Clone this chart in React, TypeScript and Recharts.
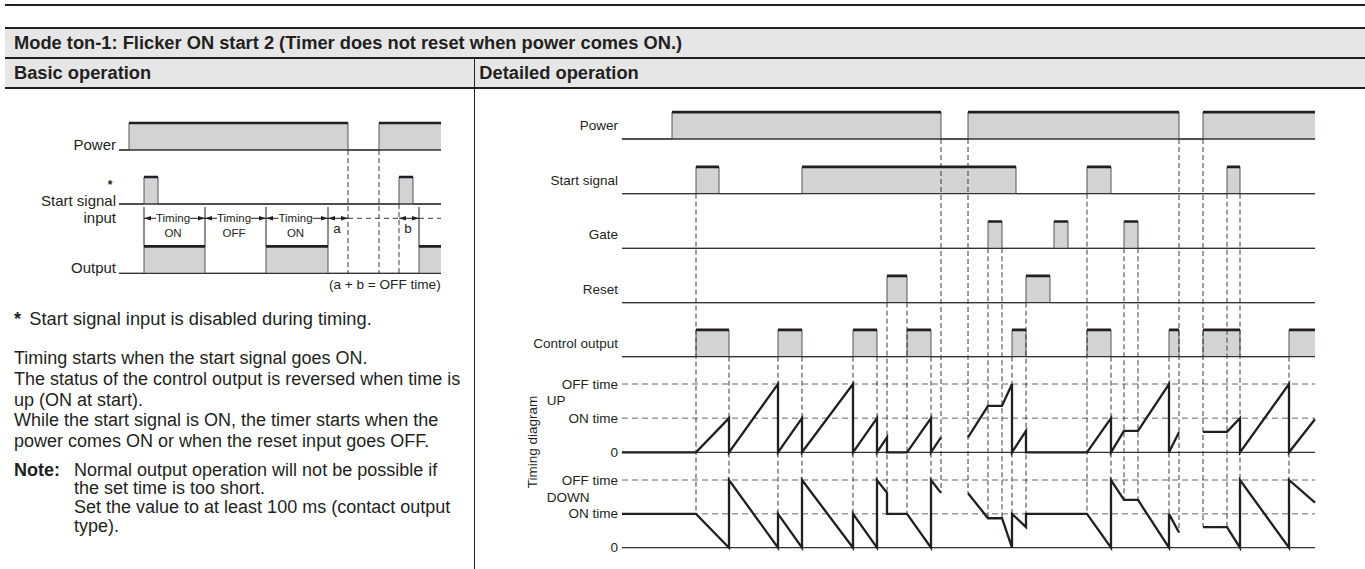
import React from 'react';
import { ComposedChart, Area, Line, Scatter, XAxis, YAxis } from 'recharts';

type Span = [number, number];
type Pt = [number, number | null];

// ---------- Detailed operation (time axis 0..693) ----------
const DETAIL_END = 693;
const POWER_ON: Span[] = [[50, 319], [346, 557], [581, 693]];
const START_ON: Span[] = [[74, 97], [180, 394], [465, 489], [605, 618]];
const GATE_ON: Span[] = [[366, 380], [432, 446], [502, 516]];
const RESET_ON: Span[] = [[265, 285], [404, 428]];
const CONTROL_ON: Span[] = [
  [74, 107], [156, 180], [231, 255], [285, 309], [390, 404], [465, 489], [547, 557], [581, 618], [667, 693],
];
const ROW_NAMES = ['Power', 'Start signal', 'Gate', 'Reset', 'Control output'];
const LEVEL_NAMES = ['OFF time', 'ON time', '0'];

// counter value in units of ON time (OFF time = 2); null = power off
const UP_POINTS: Pt[] = [
  [0, 0], [74, 0], [107, 1], [107, 0], [156, 2], [156, 0], [180, 1], [180, 0], [231, 2], [231, 0],
  [255, 1], [255, 0], [265, 0.44], [265, 0], [285, 0], [309, 1], [309, 0], [319, 0.44], [332, null],
  [346, 0.44], [366, 1.36], [380, 1.36], [390, 2], [390, 0], [404, 0.63], [404, 0], [465, 0], [489, 1],
  [489, 0], [502, 0.63], [516, 0.63], [547, 2], [547, 0], [557, 0.59], [569, null],
  [581, 0.6], [605, 0.6], [618, 1], [618, 0], [667, 2], [667, 0], [693, 0.97],
];
const DOWN_POINTS: Pt[] = [
  [0, 1], [74, 1], [107, 0], [107, 2], [156, 0], [156, 1], [180, 0], [180, 2], [231, 0], [231, 1],
  [255, 0], [255, 2], [265, 1.62], [265, 1], [285, 1], [309, 0], [309, 2], [319, 1.62], [332, null],
  [346, 1.61], [366, 0.87], [380, 0.87], [390, 0], [390, 1], [404, 0.61], [404, 1], [465, 1], [489, 0],
  [489, 2], [502, 1.41], [516, 1.41], [547, 0], [547, 1], [557, 0.45], [569, null],
  [581, 0.61], [605, 0.61], [618, 0], [618, 2], [667, 0], [667, 2], [693, 1.33],
];
// [time, row index the dashed guide drops from]
const GUIDES: [number, number][] = [
  [74, 1], [107, 4], [156, 4], [180, 4], [231, 4], [255, 4], [265, 3], [285, 3], [309, 4], [319, 0],
  [346, 0], [366, 2], [380, 2], [390, 4], [404, 3], [465, 1], [489, 4], [502, 2], [516, 2], [547, 4],
  [557, 0], [581, 0], [605, 1], [618, 1], [667, 4],
];

// ---------- Basic operation (time axis 0..322) ----------
const BASIC_END = 322;
const B_POWER_ON: Span[] = [[10, 229], [260, 322]];
const B_START_ON: Span[] = [[25, 39], [280, 294]];
const B_OUTPUT_ON: Span[] = [[25, 86], [147, 209], [300, 322]];
const B_PHASES: [number, number, string][] = [[25, 86, 'ON'], [86, 147, 'OFF'], [147, 209, 'ON']];
const B_GAPS: [number, number, string][] = [[209, 229, 'a'], [280, 300, 'b']];
const B_GUIDES: [number, number][] = [[229, 0], [260, 0], [280, 1]];

// ---------- styling / layout ----------
const FONT = '"Liberation Sans", Arial, Helvetica, sans-serif';
const INK = '#231f20';
const FILL = '#d1d3d4';
const EDGE = '#555555';

const R_BASE = [139, 193.7, 248.3, 302.7, 356.7];
const R_AMP = 26.8;
const UP_BASE = 452.3;
const UP_UNIT = 34.15;
const DOWN_BASE = 547.7;
const DOWN_UNIT = 33.85;

const L_BASE = [150, 204, 273.3];
const L_AMP = 27;

const common = { isAnimationActive: false, dot: false, activeDot: false, legendType: 'none' as const };

function stepPoints(on: Span[], end: number, base: number, amp: number) {
  const pts: { t: number; y: number }[] = [{ t: 0, y: base }];
  on.forEach(([a, b]) => {
    pts.push({ t: a, y: base }, { t: a, y: base - amp }, { t: b, y: base - amp });
    if (b < end) pts.push({ t: b, y: base });
  });
  if (pts[pts.length - 1].t < end) pts.push({ t: end, y: base });
  return pts;
}

function topPoints(on: Span[], base: number, amp: number) {
  const pts: { t: number; y: number | null }[] = [];
  on.forEach(([a, b]) => pts.push({ t: a, y: base - amp }, { t: b, y: base - amp }, { t: b, y: null }));
  return pts;
}

function analog(points: Pt[], base: number, unit: number) {
  return points.map(([t, v]) => ({ t, y: v === null ? null : base - v * unit }));
}

function downValueAt(t: number) {
  const same = DOWN_POINTS.filter((p) => p[1] !== null && Math.abs(p[0] - t) < 0.01);
  if (same.length) return Math.max(...same.map((p) => p[1] as number));
  for (let i = 0; i < DOWN_POINTS.length - 1; i++) {
    const [t0, v0] = DOWN_POINTS[i];
    const [t1, v1] = DOWN_POINTS[i + 1];
    if (v0 !== null && v1 !== null && t0 < t && t < t1) return v0 + ((v1 - v0) * (t - t0)) / (t1 - t0);
  }
  return 0;
}

function segments(list: [number, number, number, number][]) {
  const pts: { t: number; y: number | null }[] = [];
  list.forEach(([t0, y0, t1, y1]) => pts.push({ t: t0, y: y0 }, { t: t1, y: y1 }, { t: t1, y: null }));
  return pts;
}

type TickLabel = { v: number; text: string; dx?: number; anchor?: string; weight?: number; size?: number };
const makeTick = (labels: TickLabel[], size: number) => (props: any) => {
  const { x, y, payload } = props;
  const lab = labels.find((l) => Math.abs(l.v - payload.value) < 0.01);
  if (!lab) return <g />;
  return (
    <text
      x={x + (lab.dx ?? 0)}
      y={y}
      textAnchor={lab.anchor ?? 'end'}
      dominantBaseline="central"
      fontSize={lab.size ?? size}
      fontFamily={FONT}
      fontWeight={lab.weight ?? 400}
      fill={INK}
    >
      {lab.text}
    </text>
  );
};

function digitalRow(key: string, on: Span[], end: number, base: number, amp: number) {
  return {
    area: (
      <Area
        key={`a-${key}`}
        data={stepPoints(on, end, base, amp)}
        dataKey="y"
        type="linear"
        baseValue={base}
        fill={FILL}
        fillOpacity={1}
        stroke={EDGE}
        strokeWidth={1}
        isAnimationActive={false}
        dot={false}
        activeDot={false}
        legendType="none"
      />
    ),
    base: (
      <Line key={`b-${key}`} data={[{ t: 0, y: base }, { t: end, y: base }]} dataKey="y" stroke="#333" strokeWidth={1.3} {...common} />
    ),
    top: <Line key={`t-${key}`} data={topPoints(on, base, amp)} dataKey="y" stroke={INK} strokeWidth={2.7} {...common} />,
  };
}

function DetailChart() {
  const rows = [POWER_ON, START_ON, GATE_ON, RESET_ON, CONTROL_ON].map((on, i) =>
    digitalRow(`r${i}`, on, DETAIL_END, R_BASE[i], R_AMP)
  );
  const levels = [UP_BASE - 2 * UP_UNIT, UP_BASE - UP_UNIT, DOWN_BASE - 2 * DOWN_UNIT, DOWN_BASE - DOWN_UNIT];
  const guideData = segments(
    GUIDES.map(([t, row]) => [t, R_BASE[row], t, DOWN_BASE - downValueAt(t) * DOWN_UNIT] as [number, number, number, number])
  );
  const ticks: TickLabel[] = [
    ...ROW_NAMES.map((text, i) => ({ v: R_BASE[i] - R_AMP / 2, text })),
    ...LEVEL_NAMES.map((text, i) => ({ v: UP_BASE - (2 - i) * UP_UNIT, text })),
    ...LEVEL_NAMES.map((text, i) => ({ v: DOWN_BASE - (2 - i) * DOWN_UNIT, text })),
  ];
  return (
    <ComposedChart width={889} height={479} margin={{ top: 0, right: 50, bottom: 0, left: 0 }}>
      <XAxis type="number" dataKey="t" domain={[0, DETAIL_END]} hide />
      <YAxis
        type="number"
        domain={[90, 569]}
        reversed
        width={146}
        ticks={ticks.map((t) => t.v)}
        interval={0}
        axisLine={false}
        tickLine={false}
        tickSize={0}
        tickMargin={4}
        tick={makeTick(ticks, 13.5)}
      />
      {rows.map((r) => r.area)}
      {levels.map((y, i) => (
        <Line
          key={`lv${i}`}
          data={[{ t: 0, y }, { t: DETAIL_END, y }]}
          dataKey="y"
          stroke="#666"
          strokeWidth={1}
          strokeDasharray="6 4"
          {...common}
        />
      ))}
      <Line data={guideData} dataKey="y" stroke="#3a3a3a" strokeWidth={1} strokeDasharray="5 3" {...common} />
      {rows.map((r) => r.base)}
      <Line data={[{ t: 0, y: UP_BASE }, { t: DETAIL_END, y: UP_BASE }]} dataKey="y" stroke="#333" strokeWidth={1.3} {...common} />
      <Line data={[{ t: 0, y: DOWN_BASE }, { t: DETAIL_END, y: DOWN_BASE }]} dataKey="y" stroke="#333" strokeWidth={1.3} {...common} />
      {rows.map((r) => r.top)}
      <Line data={analog(UP_POINTS, UP_BASE, UP_UNIT)} dataKey="y" stroke={INK} strokeWidth={2.3} {...common} />
      <Line data={analog(DOWN_POINTS, DOWN_BASE, DOWN_UNIT)} dataKey="y" stroke={INK} strokeWidth={2.3} {...common} />
    </ComposedChart>
  );
}

function BasicChart() {
  const rows = [B_POWER_ON, B_START_ON, B_OUTPUT_ON].map((on, i) => digitalRow(`l${i}`, on, BASIC_END, L_BASE[i], L_AMP));
  const arrowY = 218.3;
  const outTop = L_BASE[2] - L_AMP;
  const bounds = [...B_PHASES.map((p) => p[0]), B_PHASES[B_PHASES.length - 1][1], B_GAPS[1][1]];
  const boundData = segments(bounds.map((t) => [t, 207, t, outTop] as [number, number, number, number]));
  const arrowSegs: [number, number, number, number][] = [];
  B_PHASES.forEach(([a, b]) => {
    const mid = (a + b) / 2 - 1.5;
    arrowSegs.push([a, arrowY, mid - 17, arrowY], [mid + 17, arrowY, b, arrowY]);
  });
  B_GAPS.forEach(([a, b]) => arrowSegs.push([a, arrowY, b, arrowY]));
  const dashH = segments([
    [B_GAPS[0][1], arrowY, B_GAPS[1][0], arrowY],
    [B_GAPS[1][1], arrowY, BASIC_END, arrowY],
  ]);
  const guideData = segments(B_GUIDES.map(([t, row]) => [t, L_BASE[row], t, L_BASE[2]] as [number, number, number, number]));
  const heads = [...B_PHASES, ...B_GAPS].flatMap(([a, b]) => [
    { t: a, y: arrowY, dir: -1 },
    { t: b, y: arrowY, dir: 1 },
  ]);
  const texts = [
    ...B_PHASES.flatMap(([a, b, s]) => [
      { t: (a + b) / 2 - 1.5, y: arrowY, text: 'Timing', size: 11.5 },
      { t: (a + b) / 2 - 1.5, y: 233.3, text: s, size: 11.5 },
    ]),
    ...B_GAPS.map(([a, b, s]) => ({ t: (a + b) / 2 - 1, y: 228, text: s, size: 13.5 })),
  ];
  const ticks: TickLabel[] = [
    { v: 144, text: 'Power' },
    { v: 184.5, text: '*', dx: -6, anchor: 'middle', weight: 700, size: 12 },
    { v: 200, text: 'Start signal' },
    { v: 217.5, text: 'input' },
    { v: 267.8, text: 'Output' },
  ];
  return (
    <ComposedChart width={474} height={210} margin={{ top: 0, right: 33, bottom: 0, left: 0 }}>
      <XAxis type="number" dataKey="t" domain={[0, BASIC_END]} hide />
      <YAxis
        type="number"
        domain={[90, 300]}
        reversed
        width={119}
        ticks={ticks.map((t) => t.v)}
        interval={0}
        axisLine={false}
        tickLine={false}
        tickSize={0}
        tickMargin={3}
        tick={makeTick(ticks, 15)}
      />
      {rows.map((r) => r.area)}
      <Line data={guideData} dataKey="y" stroke="#3a3a3a" strokeWidth={1} strokeDasharray="5 3" {...common} />
      <Line data={dashH} dataKey="y" stroke="#3a3a3a" strokeWidth={1} strokeDasharray="5 4" {...common} />
      <Line data={boundData} dataKey="y" stroke={INK} strokeWidth={1} {...common} />
      <Line data={segments(arrowSegs)} dataKey="y" stroke={INK} strokeWidth={1} {...common} />
      {rows.map((r) => r.base)}
      {rows.map((r) => r.top)}
      <Scatter
        data={heads}
        dataKey="y"
        isAnimationActive={false}
        legendType="none"
        shape={(p: any) => {
          const d = p.payload.dir;
          return <path d={`M${p.cx},${p.cy} l${-d * 7},-2.3 l0,4.6 z`} fill={INK} />;
        }}
      />
      <Scatter
        data={texts}
        dataKey="y"
        isAnimationActive={false}
        legendType="none"
        shape={(p: any) => (
          <text
            x={p.cx}
            y={p.cy}
            textAnchor="middle"
            dominantBaseline="central"
            fontSize={p.payload.size}
            fontFamily={FONT}
            fill={INK}
          >
            {p.payload.text}
          </text>
        )}
      />
    </ComposedChart>
  );
}

function Txt(props: {
  x: number;
  y: number;
  size: number;
  lh?: number;
  bold?: boolean;
  right?: boolean;
  children: React.ReactNode;
}) {
  const { x, y, size, bold, right, children } = props;
  const lh = props.lh ?? size * 1.2;
  const pos: React.CSSProperties = right ? { right: 1365 - x } : { left: x };
  return (
    <div
      style={{
        position: 'absolute',
        top: y - lh / 2,
        ...pos,
        fontSize: size,
        lineHeight: `${lh}px`,
        fontWeight: bold ? 700 : 400,
        whiteSpace: 'nowrap',
      }}
    >
      {children}
    </div>
  );
}

const BODY_LINES = [
  'Timing starts when the start signal goes ON.',
  'The status of the control output is reversed when time is',
  'up (ON at start).',
  'While the start signal is ON, the timer starts when the',
  'power comes ON or when the reset input goes OFF.',
];
const BODY_Y = [358.3, 379.3, 400, 420.5, 441.5];
const NOTE_LINES = [
  'Normal output operation will not be possible if',
  'the set time is too short.',
  'Set the value to at least 100 ms (contact output',
  'type).',
];
const NOTE_Y = [469.5, 488.2, 506.9, 525.6];

export default function App() {
  const bar = (top: number, h: number): React.CSSProperties => ({
    position: 'absolute',
    left: 5,
    top,
    width: 1360,
    height: h,
    background: INK,
  });
  return (
    <div
      style={{
        position: 'absolute',
        left: 0,
        top: 0,
        width: 1365,
        height: 569,
        overflow: 'hidden',
        background: '#fff',
        fontFamily: FONT,
        color: INK,
      }}
    >
      <div style={bar(4, 2)} />
      <div style={{ position: 'absolute', left: 5, top: 29, width: 1360, height: 59, background: '#e6e6e6' }} />
      <div style={bar(27.3, 2)} />
      <div style={bar(57.3, 1.3)} />
      <div style={bar(87.3, 2)} />
      <div style={{ position: 'absolute', left: 474, top: 58.5, width: 1, height: 520, background: INK }} />
      <Txt x={14} y={43.3} size={18.3} bold>
        Mode ton-1: Flicker ON start 2 (Timer does not reset when power comes ON.)
      </Txt>
      <Txt x={14} y={73.3} size={18.3} bold>
        Basic operation
      </Txt>
      <Txt x={479.3} y={73.3} size={18.3} bold>
        Detailed operation
      </Txt>

      <div style={{ position: 'absolute', left: 0, top: 90 }}>
        <BasicChart />
      </div>
      <Txt x={440.7} y={285} size={13.6} right>
        (a + b = OFF time)
      </Txt>
      <Txt x={14} y={319.3} size={18} bold>
        *
      </Txt>
      <Txt x={29.3} y={319.3} size={18.3}>
        Start signal input is disabled during timing.
      </Txt>
      {BODY_LINES.map((s, i) => (
        <Txt key={i} x={14} y={BODY_Y[i]} size={18} lh={20.5}>
          {s}
        </Txt>
      ))}
      <Txt x={14} y={NOTE_Y[0]} size={18} lh={18}>
        <b>Note:</b>
      </Txt>
      {NOTE_LINES.map((s, i) => (
        <Txt key={`n${i}`} x={74} y={NOTE_Y[i]} size={18} lh={18}>
          {s}
        </Txt>
      ))}

      <div style={{ position: 'absolute', left: 476, top: 90 }}>
        <DetailChart />
      </div>
      <div
        style={{
          position: 'absolute',
          left: 531.7,
          top: 441.7,
          fontSize: 13.5,
          whiteSpace: 'nowrap',
          transform: 'translate(-50%, -50%) rotate(-90deg)',
        }}
      >
        Timing diagram
      </div>
      <Txt x={546.7} y={401} size={13.5}>
        UP
      </Txt>
      <Txt x={546.7} y={497.7} size={13.5}>
        DOWN
      </Txt>
    </div>
  );
}
